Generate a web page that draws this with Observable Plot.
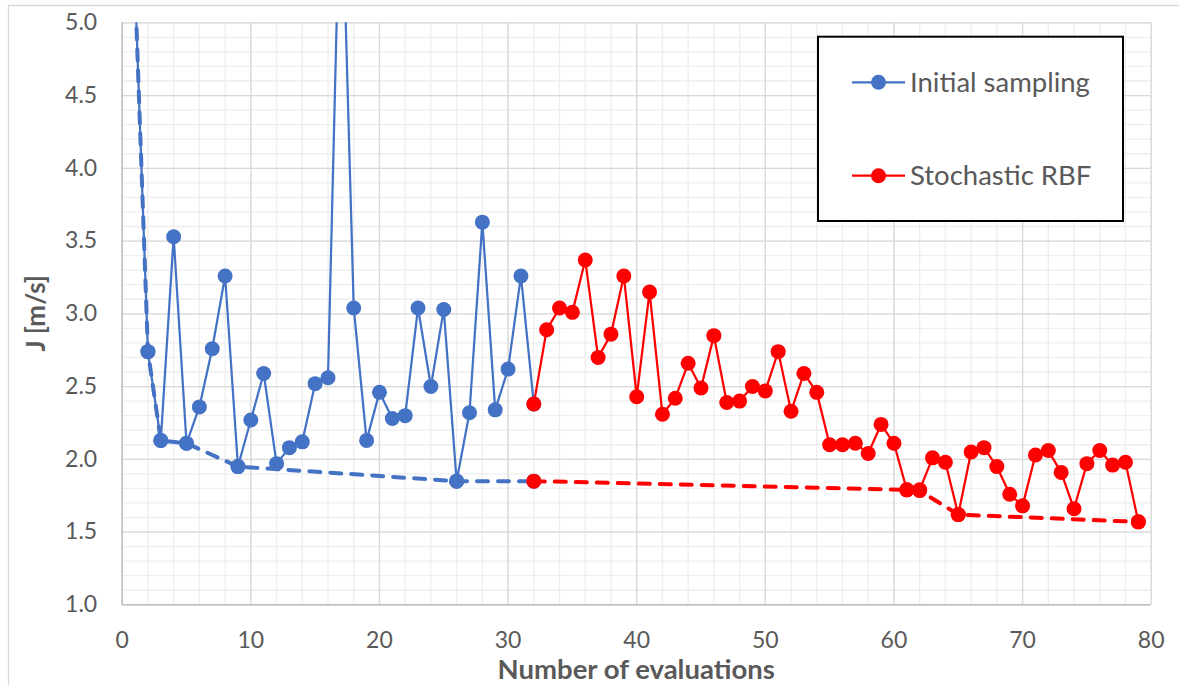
<!DOCTYPE html>
<html>
<head>
<meta charset="utf-8">
<script src="https://cdn.jsdelivr.net/npm/d3@7"></script>
<script src="https://cdn.jsdelivr.net/npm/@observablehq/plot@0.6"></script>
<style>
  html, body { margin: 0; padding: 0; background: #ffffff; }
  #chart { position: relative; width: 1179px; height: 685px; overflow: hidden; }
  #chart svg { position: absolute; left: 0; top: 0; }
</style>
</head>
<body>
<div id="chart"></div>
<script>
// Objective J [m/s] per evaluation: evaluations 1-32 from the initial sampling,
// 32-79 from the stochastic RBF search (evaluation 32 closes the first curve).
const initialJ = [
  5.25, 2.74, 2.13, 3.53, 2.11, 2.36, 2.76, 3.26, 1.95, 2.27,
  2.59, 1.97, 2.08, 2.12, 2.52, 2.56, 6.20, 3.04, 2.13, 2.46,
  2.28, 2.30, 3.04, 2.50, 3.03, 1.85, 2.32, 3.63, 2.34, 2.62,
  3.26, 2.38
];
const rbfJ = [
  2.38, 2.89, 3.04, 3.01, 3.37, 2.70, 2.86, 3.26, 2.43, 3.15,
  2.31, 2.42, 2.66, 2.49, 2.85, 2.39, 2.40, 2.50, 2.47, 2.74,
  2.33, 2.59, 2.46, 2.10, 2.10, 2.11, 2.04, 2.24, 2.11, 1.79,
  1.79, 2.01, 1.98, 1.62, 2.05, 2.08, 1.95, 1.76, 1.68, 2.03,
  2.06, 1.91, 1.66, 1.97, 2.06, 1.96, 1.98, 1.57
];
const initialStart = 1;
const rbfStart = 32;

// Best value found so far, at the evaluations where it improved
const bestInitialEval = [1, 2, 3, 5, 9, 26, 32];
const bestInitialJ    = [5.25, 2.74, 2.13, 2.11, 1.95, 1.85, 1.85];
const bestRbfEval     = [32, 61, 62, 65, 79];
const bestRbfJ        = [1.85, 1.79, 1.785, 1.62, 1.57];

const seriesNames  = ["Initial sampling", "Stochastic RBF"];
const seriesColors = ["#4472C4", "#FF0000"];

const xTicks = [0, 10, 20, 30, 40, 50, 60, 70, 80];
const yTicks = [1.0, 1.5, 2.0, 2.5, 3.0, 3.5, 4.0, 4.5, 5.0];
const xMinor = d3.range(0, 81, 2);
const yMinor = d3.range(10, 51).map(d => d / 10);

const xTitle = "Number of evaluations";
const yTitle = "J [m/s]";

// Tables for the marks
const initialRows = initialJ.map((j, i) => ({n: initialStart + i, j}));
const rbfRows = rbfJ.map((j, i) => ({n: rbfStart + i, j}));
const bestInitialRows = bestInitialEval.map((n, i) => ({n, j: bestInitialJ[i]}));
const bestRbfRows = bestRbfEval.map((n, i) => ({n, j: bestRbfJ[i]}));

const [blue, red] = seriesColors;
const solid = {x: "n", y: "j", strokeWidth: 2.25, clip: true};
const dashed = {x: "n", y: "j", strokeWidth: 4, strokeDasharray: "11,10", strokeLinecap: "round", clip: true};
const marker = {x: "n", y: "j", r: 7.5, clip: true};

const chart = Plot.plot({
  width: 1179,
  height: 685,
  marginLeft: 121.7,
  marginRight: 28.3,
  marginTop: 22.3,
  marginBottom: 80.7,
  style: {
    background: "transparent",
    fontFamily: "Lato, sans-serif",
    fontSize: "23px",
    color: "#595959",
    overflow: "visible"
  },
  x: {domain: [0, 80], ticks: xTicks, tickSize: 0, tickPadding: 27, label: null, tickFormat: d => String(d)},
  y: {domain: [1, 5], ticks: yTicks, tickSize: 0, tickPadding: 25, label: null, tickFormat: d3.format(".1f")},
  marks: [
    Plot.ruleX(xMinor, {stroke: "#eeeeee", strokeWidth: 1.3}),
    Plot.ruleY(yMinor, {stroke: "#eeeeee", strokeWidth: 1.3}),
    Plot.ruleX(xTicks, {stroke: "#d9d9d9", strokeWidth: 1.3}),
    Plot.ruleY(yTicks, {stroke: "#d9d9d9", strokeWidth: 1.3}),
    Plot.ruleX([0], {stroke: "#bfbfbf", strokeWidth: 1.5}),
    Plot.ruleY([1], {stroke: "#bfbfbf", strokeWidth: 1.5}),

    Plot.line(bestInitialRows, {...dashed, stroke: blue}),
    Plot.line(initialRows, {...solid, stroke: blue}),
    Plot.dot(bestInitialRows, {...marker, fill: blue}),
    Plot.dot(initialRows, {...marker, fill: blue}),

    Plot.line(bestRbfRows, {...dashed, stroke: red}),
    Plot.line(rbfRows, {...solid, stroke: red}),
    Plot.dot(bestRbfRows, {...marker, fill: red}),
    Plot.dot(rbfRows, {...marker, fill: red})
  ]
});

document.getElementById("chart").appendChild(chart);

const svg = d3.select(chart);
const [x0, x1] = chart.scale("x").range;
const [yBottom, yTop] = chart.scale("y").range;

// Outer chart border
svg.insert("path", ":first-child")
  .attr("d", "M8.5,690V5.5H1190")
  .attr("fill", "none")
  .attr("stroke", "#d9d9d9")
  .attr("stroke-width", 1.3);

// Axis titles
svg.append("text")
  .attr("x", (x0 + x1) / 2)
  .attr("y", 679)
  .attr("text-anchor", "middle")
  .attr("font-weight", "bold")
  .attr("font-size", 27.5)
  .attr("fill", "#595959")
  .text(xTitle);

svg.append("text")
  .attr("transform", `translate(45,${(yBottom + yTop) / 2}) rotate(-90)`)
  .attr("text-anchor", "middle")
  .attr("font-weight", "bold")
  .attr("font-size", 26)
  .attr("fill", "#595959")
  .text(yTitle);

// Legend box
const legend = svg.append("g").attr("text-anchor", "start");
legend.append("rect")
  .attr("x", 818).attr("y", 36.7)
  .attr("width", 305).attr("height", 184.3)
  .attr("fill", "#ffffff")
  .attr("stroke", "#000000")
  .attr("stroke-width", 2);

const rowY = [82.3, 175.7];
seriesNames.forEach((name, i) => {
  const g = legend.append("g").attr("transform", `translate(0,${rowY[i]})`);
  g.append("line")
    .attr("x1", 852).attr("x2", 905)
    .attr("stroke", seriesColors[i]).attr("stroke-width", 2.25);
  g.append("circle")
    .attr("cx", 878.5).attr("r", 7.5)
    .attr("fill", seriesColors[i]);
  g.append("text")
    .attr("x", 910).attr("y", 9.5)
    .attr("text-anchor", "start")
    .attr("font-size", 27.5)
    .attr("fill", "#595959")
    .text(name);
});
</script>
</body>
</html>
